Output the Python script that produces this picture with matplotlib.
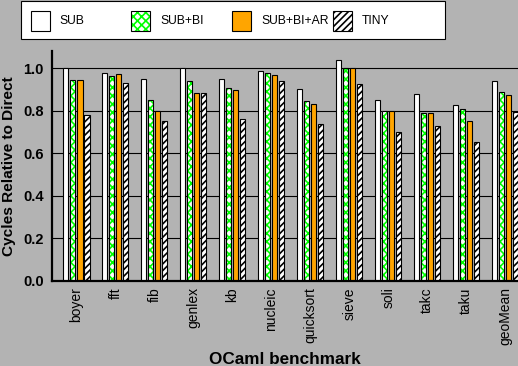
import matplotlib
matplotlib.use("Agg")
import matplotlib.pyplot as plt
from matplotlib.patches import Rectangle
import numpy as np

# --- Data ---
benchmarks = ["boyer", "fft", "fib", "genlex", "kb", "nucleic", "quicksort",
              "sieve", "soli", "takc", "taku", "geoMean"]
sub = [1.00, 0.975, 0.947, 1.00, 0.947, 0.985, 0.900, 1.036, 0.848, 0.877, 0.825, 0.937]
sub_bi = [0.944, 0.961, 0.848, 0.937, 0.905, 0.975, 0.844, 1.00, 0.797, 0.787, 0.806, 0.886]
sub_bi_ar = [0.944, 0.970, 0.797, 0.881, 0.895, 0.966, 0.830, 1.00, 0.797, 0.787, 0.750, 0.872]
tiny = [0.778, 0.928, 0.750, 0.881, 0.759, 0.937, 0.736, 0.923, 0.698, 0.726, 0.651, 0.792]
series_names = ["SUB", "SUB+BI", "SUB+BI+AR", "TINY"]
yticks = [0.0, 0.2, 0.4, 0.6, 0.8, 1.0]

GRAY = "#b3b3b3"
GREEN = "#00ff00"
ORANGE = "#ffa500"

plt.rcParams['font.family'] = ['Liberation Sans', 'DejaVu Sans']
plt.rcParams['hatch.linewidth'] = 1.2

W, H = 518, 366
fig = plt.figure(figsize=(W / 100, H / 100), dpi=100, facecolor=GRAY)

# axes placed by pixel box: left 52, right 518, bottom 281, top 51
ax = fig.add_axes([52 / W, 1 - 281 / H, (518 - 52) / W, (281 - 51) / H])
ax.set_facecolor(GRAY)

x = np.arange(len(benchmarks))
step = 0.18
width = 0.13
lw = 0.8

# one style per series: (face, hatch colour, hatch)
styles = [
    ("white", None, None),
    ("white", GREEN, "xxxx"),
    (ORANGE, None, None),
    ("white", "black", "/////"),
]
all_vals = [sub, sub_bi, sub_bi_ar, tiny]

for j, (vals, (face, hcol, hatch)) in enumerate(zip(all_vals, styles)):
    pos = x + (j - 1.5) * step
    if hatch:
        ax.bar(pos, vals, width, color=face, edgecolor=hcol, hatch=hatch, linewidth=0, zorder=2)
        ax.bar(pos, vals, width, fill=False, edgecolor="black", linewidth=lw, zorder=3)
    else:
        ax.bar(pos, vals, width, color=face, edgecolor="black", linewidth=lw, zorder=2)

ax.set_xlim(-0.628, 11.33)
ax.set_ylim(0, 1.08)
ax.set_yticks(yticks)
ax.set_yticklabels([f"{t:.1f}" for t in yticks], fontsize=10.5, fontweight="bold")
ax.set_xticks(x)
ax.set_xticklabels(benchmarks, rotation=90, fontsize=10)
ax.tick_params(axis="both", length=0)
ax.tick_params(axis="y", pad=6)
ax.tick_params(axis="x", pad=4.5)

ax.set_axisbelow(True)
ax.yaxis.grid(True, color="black", linewidth=0.8)
for s in ["top", "right"]:
    ax.spines[s].set_visible(False)
for s in ["left", "bottom"]:
    ax.spines[s].set_linewidth(1.6)
    ax.spines[s].set_color("black")

ax.set_ylabel("Cycles Relative to Direct", fontsize=11.1, fontweight="bold")
ax.yaxis.set_label_coords(-0.077, 0.5)
ax.set_xlabel("OCaml benchmark", fontsize=12.3, fontweight="bold", va="top")
ax.xaxis.set_label_coords(0.5, -0.31)


# --- Legend drawn by hand so columns are evenly spaced ---
def fx(px):
    return px / W


def fy(py):
    return 1 - py / H


fig.add_artist(Rectangle((fx(20.5), fy(38.5)), fx(424), 38 / H, transform=fig.transFigure,
                         facecolor="white", edgecolor="black", linewidth=0.8, zorder=5))
for j, (name, (face, hcol, hatch)) in enumerate(zip(series_names, styles)):
    hx = 30.5 + j * 100.8
    box = (fx(hx), fy(30.5))
    bw, bh = fx(19), 20 / H
    if hatch:
        fig.add_artist(Rectangle(box, bw, bh, transform=fig.transFigure, facecolor=face,
                                 edgecolor=hcol, hatch=hatch, linewidth=0, zorder=6))
        fig.add_artist(Rectangle(box, bw, bh, transform=fig.transFigure, fill=False,
                                 edgecolor="black", linewidth=lw, zorder=7))
    else:
        fig.add_artist(Rectangle(box, bw, bh, transform=fig.transFigure, facecolor=face,
                                 edgecolor="black", linewidth=lw, zorder=6))
    fig.text(fx(hx + 29), fy(20.7), name, fontsize=8.7, va="center", ha="left", zorder=8)

fig.savefig("out.png", dpi=100, facecolor=GRAY)
